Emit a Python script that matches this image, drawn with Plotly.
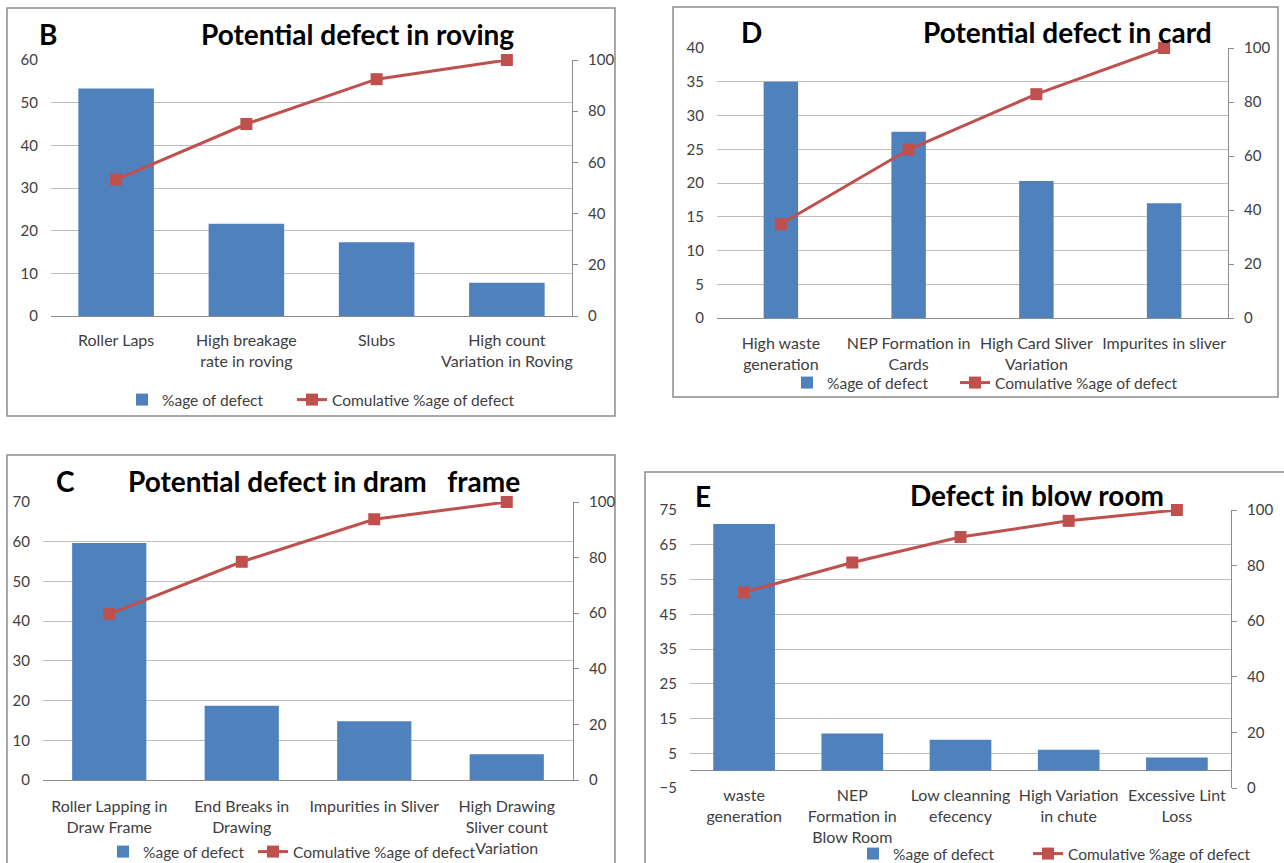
import plotly.graph_objects as go

W, H = 1284, 863

# ---------------- data ----------------
B_categories = ["Roller Laps", "High breakage<br>rate in roving", "Slubs", "High count<br>Variation in Roving"]
B_pct = [53.3, 21.6, 17.3, 7.8]
B_cum = [53.3, 75.0, 92.5, 100]

D_categories = ["High waste<br>generation", "NEP Formation in<br>Cards", "High Card Sliver<br>Variation", "Impurites in sliver"]
D_pct = [35.0, 27.6, 20.3, 17.0]
D_cum = [34.8, 62.4, 82.9, 100]

C_categories = ["Roller Lapping in<br>Draw Frame", "End Breaks in<br>Drawing", "Impurities in Sliver", "High Drawing<br>Sliver count<br>Variation"]
C_pct = [59.7, 18.7, 14.8, 6.5]
C_cum = [59.7, 78.5, 93.8, 100]

E_categories = ["waste<br>generation", "NEP<br>Formation in<br>Blow Room", "Low cleanning<br>efecency", "High Variation<br>in chute", "Excessive Lint<br>Loss"]
E_pct = [71.0, 10.7, 8.9, 6.0, 3.8]
E_cum = [70.4, 81.1, 90.3, 96.1, 100]

bar_name = "%age of defect"
line_name = "Comulative %age of defect"

# ---------------- style ----------------
FONT = "Lato, 'Noto Sans', sans-serif"
BLUE = "#4F81BD"
RED = "#C0504D"
GRID = "#BFBFBF"
AXIS = "#8C8C8C"
TXT = "#404040"


def px(x):
    return x / W


def py(y):
    return 1 - y / H


fig = go.Figure()

panels = [
    dict(n=1, cats=B_categories, pct=B_pct, cum=B_cum, xd=(51, 572), yd=(60, 316),
         lr=[0, 60], dt=10, t0=0, bw=0.58, leg=dict(x=122, y=400, ew=125), xstand=10),
    dict(n=2, cats=D_categories, pct=D_pct, cum=D_cum, xd=(717, 1228), yd=(48, 318),
         lr=[0, 40], dt=5, t0=0, bw=0.27, leg=dict(x=787, y=383, ew=123), xstand=11),
    dict(n=3, cats=C_categories, pct=C_pct, cum=C_cum, xd=(43, 573), yd=(502, 780),
         lr=[0, 70], dt=10, t0=0, bw=0.56, leg=dict(x=103, y=852, ew=105), xstand=12),
    dict(n=4, cats=E_categories, pct=E_pct, cum=E_cum, xd=(690, 1231), yd=(510, 788),
         lr=[-5, 75], dt=10, t0=-5, bw=0.57, leg=dict(x=853, y=854, ew=130), xstand=-4),
]

layout_upd = {}
for p in panels:
    n = p["n"]
    xa = "x" if n == 1 else f"x{n}"
    ya = "y" if n == 1 else f"y{2*n-1}"
    ya2 = f"y{2*n}"
    legname = "legend" if n == 1 else f"legend{n}"
    lg = p["leg"]

    fig.add_trace(go.Bar(x=p["cats"], y=p["pct"], name=bar_name, marker_color=BLUE,
                         marker_line_width=0, width=p["bw"], xaxis=xa, yaxis=ya,
                         legend=legname, legendwidth=lg["ew"]))
    fig.add_trace(go.Scatter(x=p["cats"], y=p["cum"], name=line_name, mode="lines+markers",
                             line=dict(color=RED, width=3),
                             marker=dict(symbol="square", size=12, color=RED),
                             cliponaxis=False,
                             xaxis=xa, yaxis=ya2, legend=legname, legendwidth=230))

    xkey = "xaxis" if n == 1 else f"xaxis{n}"
    ykey = "yaxis" if n == 1 else f"yaxis{2*n-1}"
    y2key = f"yaxis{2*n}"
    dom_y = [py(p["yd"][1]), py(p["yd"][0])]
    layout_upd[xkey] = dict(domain=[px(p["xd"][0]), px(p["xd"][1])], anchor=ya,
                            type="category", showline=(n != 4), linecolor=AXIS, linewidth=1,
                            showgrid=False, ticks="", ticklabelstandoff=p["xstand"],
                            tickfont=dict(family=FONT, size=16, color=TXT), fixedrange=True)
    layout_upd[ykey] = dict(domain=dom_y, anchor=xa, range=p["lr"], tick0=p["t0"], dtick=p["dt"],
                            showgrid=True, gridcolor=GRID, gridwidth=1,
                            zeroline=(n == 4), zerolinecolor=AXIS, zerolinewidth=1,
                            showline=False, ticks="", ticklabelstandoff=12,
                            tickfont=dict(family=FONT, size=15, color=TXT))
    layout_upd[y2key] = dict(domain=dom_y, anchor=xa, overlaying=ya, side="right",
                             range=[0, 100], dtick=20, showgrid=False, zeroline=False,
                             showline=True, linecolor=AXIS, linewidth=1,
                             ticks="outside", ticklen=5, tickcolor=AXIS, ticklabelstandoff=7,
                             tickfont=dict(family=FONT, size=15, color=TXT))
    layout_upd[legname] = dict(orientation="h", x=px(lg["x"]), y=py(lg["y"]),
                               xanchor="left", yanchor="middle", bgcolor="rgba(0,0,0,0)",
                               font=dict(family=FONT, size=15.5, color=TXT),
                               itemclick=False, itemdoubleclick=False)

fig.update_layout(**layout_upd)

# panel borders
borders = [(7, 8, 615, 416), (673, 7, 1278, 397), (7, 455, 615, 880), (645, 472, 1295, 880)]
for x0, y0, x1, y1 in borders:
    fig.add_shape(type="rect", xref="paper", yref="paper", x0=px(x0), x1=px(x1),
                  y0=py(y1), y1=py(y0), line=dict(color="#8C8C8C", width=1.5),
                  fillcolor="rgba(0,0,0,0)", layer="below")

# titles
titles = [
    ("B", 48, 34, "Potential defect in roving", 357, 34),
    ("D", 751, 32, "Potential defect in card", 1067, 32),
    ("C", 65, 481, "Potential defect in dram\u00a0\u00a0\u00a0frame", 324, 481),
    ("E", 703, 496, "Defect in blow room", 1037, 495),
]
for letter, lx, ly, title, tx, ty in titles:
    fig.add_annotation(text=f"<b>{letter}</b>", x=px(lx), y=py(ly), xref="paper", yref="paper",
                       showarrow=False, xanchor="center", yanchor="middle",
                       font=dict(family=FONT, size=28, color="#000000"))
    fig.add_annotation(text=f"<b>{title}</b>", x=px(tx), y=py(ty), xref="paper", yref="paper",
                       showarrow=False, xanchor="center", yanchor="middle",
                       font=dict(family=FONT, size=28, color="#000000"))

fig.update_layout(width=W, height=H, autosize=False,
                  margin=dict(l=0, r=0, t=0, b=0, autoexpand=False),
                  paper_bgcolor="white", plot_bgcolor="rgba(0,0,0,0)",
                  hovermode=False)

fig.write_html("out.html")
